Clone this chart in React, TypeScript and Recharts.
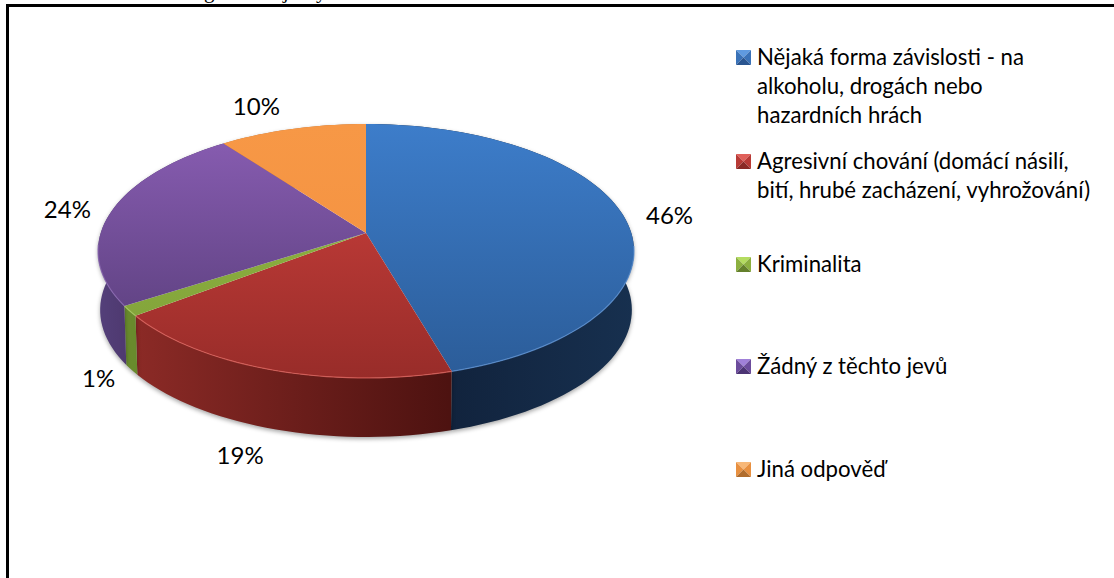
import { PieChart, Pie, Legend } from "recharts";

const categories = [
  "Nějaká forma závislosti - na\nalkoholu, drogách nebo\nhazardních hrách",
  "Agresivní chování (domácí násilí,\nbití, hrubé zacházení, vyhrožování)",
  "Kriminalita",
  "Žádný z těchto jevů",
  "Jiná odpověď",
];
const shares = [45.5, 19.1, 1.3, 23.9, 10.2];

const data = categories.map((name, i) => ({ name, value: shares[i] }));

// perspective of the tilted disc
const TILT = 0.1417;
const SQUASH = 0.469;
const DEPTH = 59;
const BOTTOM_SCALE = 0.992;
const FONT = "Lato, Carlito, sans-serif";

const topColors = [
  ["#3d7dca", "#2b5c98"],
  ["#d0423e", "#982c29"],
  ["#93b944", "#7f9f38"],
  ["#8a5eb4", "#533a74"],
  ["#f79846", "#f28f3f"],
];
const wallColors = [
  ["#11233d", "#17304f"],
  ["#8b2a26", "#4d1210"],
  ["#6f8f31", "#688a2c"],
  ["#54407a", "#4c366c"],
  ["#c07030", "#c07030"],
];
const rimColors = ["#5a8fd0", "#d9605a", "#a8c860", "#8a68b0", "#f8b070"];
const iconColors = [
  ["#5f9ae0", "#3a72b8", "#2a5590"],
  ["#e0605a", "#b83a36", "#8a2a26"],
  ["#b4dc60", "#8cb040", "#64802c"],
  ["#a080d8", "#6c4c9c", "#4c3474"],
  ["#f8b878", "#e89040", "#b06c2c"],
];
const labelOffsets = [
  [46, -1],
  [-31, 26],
  [-33, 8],
  [-44, -3],
  [-36, -23],
];
const legendTops = [42, 146, 249, 351, 454];

type Pt = [number, number];

function project(cx: number, cy: number, r: number, deg: number, bottom = false): Pt {
  const a = (deg * Math.PI) / 180;
  const u = Math.cos(a);
  const v = Math.sin(a);
  const d = 1 + TILT * v;
  const s = bottom ? BOTTOM_SCALE : 1;
  return [cx + (r * s * u) / d, cy - (r * SQUASH * v) / d + (bottom ? DEPTH : 0)];
}

function arc(p: any, bottom = false): Pt[] {
  const n = Math.max(2, Math.ceil(Math.abs(p.endAngle - p.startAngle) / 2));
  const pts: Pt[] = [];
  for (let i = 0; i <= n; i++) {
    const deg = p.startAngle + ((p.endAngle - p.startAngle) * i) / n;
    pts.push(project(p.cx, p.cy, p.outerRadius, deg, bottom));
  }
  return pts;
}

const toPath = (pts: Pt[]) => pts.map((q, i) => `${i ? "L" : "M"}${q[0].toFixed(2)} ${q[1].toFixed(2)}`).join("");

function TopSlice(p: any) {
  const i = p.index;
  const rim = arc(p);
  const front = rim.filter((q) => q[1] > p.cy + 10);
  return (
    <g>
      <path d={`M${p.cx} ${p.cy}${toPath(rim).replace("M", "L")}Z`} fill={`url(#top${i})`} />
      {front.length > 1 && <path d={toPath(front)} fill="none" stroke={rimColors[i]} strokeWidth={1.2} opacity={0.8} />}
    </g>
  );
}

function WallSlice(p: any) {
  const top = arc(p);
  const bottom = arc(p, true).reverse();
  return (
    <path
      d={`${toPath(top)}${toPath(bottom).replace("M", "L")}Z`}
      fill={`url(#wall${p.index})`}
      style={{ filter: "drop-shadow(0 2px 2px rgba(0,0,0,0.35))" }}
    />
  );
}

function renderLabel(p: any) {
  const deg = p.midAngle;
  const front = Math.sin((deg * Math.PI) / 180) < 0;
  const [x, y] = project(p.cx, p.cy, p.outerRadius, deg, front);
  const [dx, dy] = labelOffsets[p.index];
  return (
    <text x={x + dx} y={y + dy} textAnchor="middle" dominantBaseline="central" fontFamily={FONT} fontSize={24} fill="#000">
      {`${Math.round(p.value)}%`}
    </text>
  );
}

function LegendIcon({ colors }: { colors: string[] }) {
  const [light, mid, dark] = colors;
  return (
    <svg width={15} height={15} style={{ position: "absolute", left: 0, top: 8 }}>
      <polygon points="0,0 15,0 7.5,7.5" fill={light} />
      <polygon points="0,0 0,15 7.5,7.5" fill={mid} />
      <polygon points="15,0 15,15 7.5,7.5" fill={mid} />
      <polygon points="0,15 15,15 7.5,7.5" fill={dark} />
    </svg>
  );
}

function LegendBox({ payload }: any) {
  const entries = (payload || []).filter((e: any) => e.type !== "none").slice(0, categories.length);
  return (
    <div style={{ position: "relative", width: 378, height: 540 }}>
      {entries.map((entry: any, i: number) => (
        <div key={i} style={{ position: "absolute", left: 0, top: legendTops[i] }}>
          <LegendIcon colors={iconColors[i]} />
          <div style={{ marginLeft: 21, whiteSpace: "pre", fontFamily: FONT, fontSize: 22.2, lineHeight: "29px", color: "#000" }}>
            {entry.value}
          </div>
        </div>
      ))}
    </div>
  );
}

export default function App() {
  return (
    <div style={{ position: "absolute", left: 0, top: 0, width: 1114, height: 578, overflow: "hidden", background: "#fff" }}>
      <div style={{ position: "absolute", left: 6, top: 4, width: 2.5, height: 574, background: "#000" }} />
      <div style={{ position: "absolute", left: 6, top: 4, width: 1108, height: 2.5, background: "#000" }} />
      <svg width={1114} height={4} style={{ position: "absolute", left: 0, top: 0 }}>
        <text y={-2} fontFamily="Liberation Serif" fontSize={21} fill="#000">
          <tspan x={204}>g</tspan>
          <tspan x={283}>j</tspan>
          <tspan x={316}>y</tspan>
        </text>
      </svg>
      <PieChart width={1114} height={578} margin={{ top: 0, right: 0, bottom: 0, left: 0 }} style={{ position: "absolute", left: 0, top: 0 }}>
        <defs>
          {topColors.map((c, i) => (
            <linearGradient key={i} id={`top${i}`} gradientUnits="userSpaceOnUse" x1={0} y1={124} x2={0} y2={378}>
              <stop offset="0%" stopColor={c[0]} />
              <stop offset="100%" stopColor={c[1]} />
            </linearGradient>
          ))}
          {wallColors.map((c, i) => (
            <linearGradient key={i} id={`wall${i}`} gradientUnits="userSpaceOnUse" x1={i === 0 ? 449 : i === 1 ? 137 : 98} y1={0} x2={i === 0 ? 634 : i === 1 ? 449 : 137} y2={0}>
              <stop offset="0%" stopColor={c[0]} />
              <stop offset="100%" stopColor={c[1]} />
            </linearGradient>
          ))}
        </defs>
        <Pie
          data={data}
          dataKey="value"
          nameKey="name"
          cx={366}
          cy={233}
          outerRadius={265.3}
          startAngle={90}
          endAngle={-270}
          legendType="none"
          shape={WallSlice}
          isAnimationActive={false}
        />
        <Pie
          data={data}
          dataKey="value"
          nameKey="name"
          cx={366}
          cy={233}
          outerRadius={265.3}
          startAngle={90}
          endAngle={-270}
          shape={TopSlice}
          label={renderLabel}
          labelLine={false}
          isAnimationActive={false}
        />
        <Legend
          layout="vertical"
          align="right"
          verticalAlign="top"
          itemSorter={null}
          content={LegendBox}
          wrapperStyle={{ position: "absolute", left: 736, top: 0, width: 378 }}
        />
      </PieChart>
    </div>
  );
}
